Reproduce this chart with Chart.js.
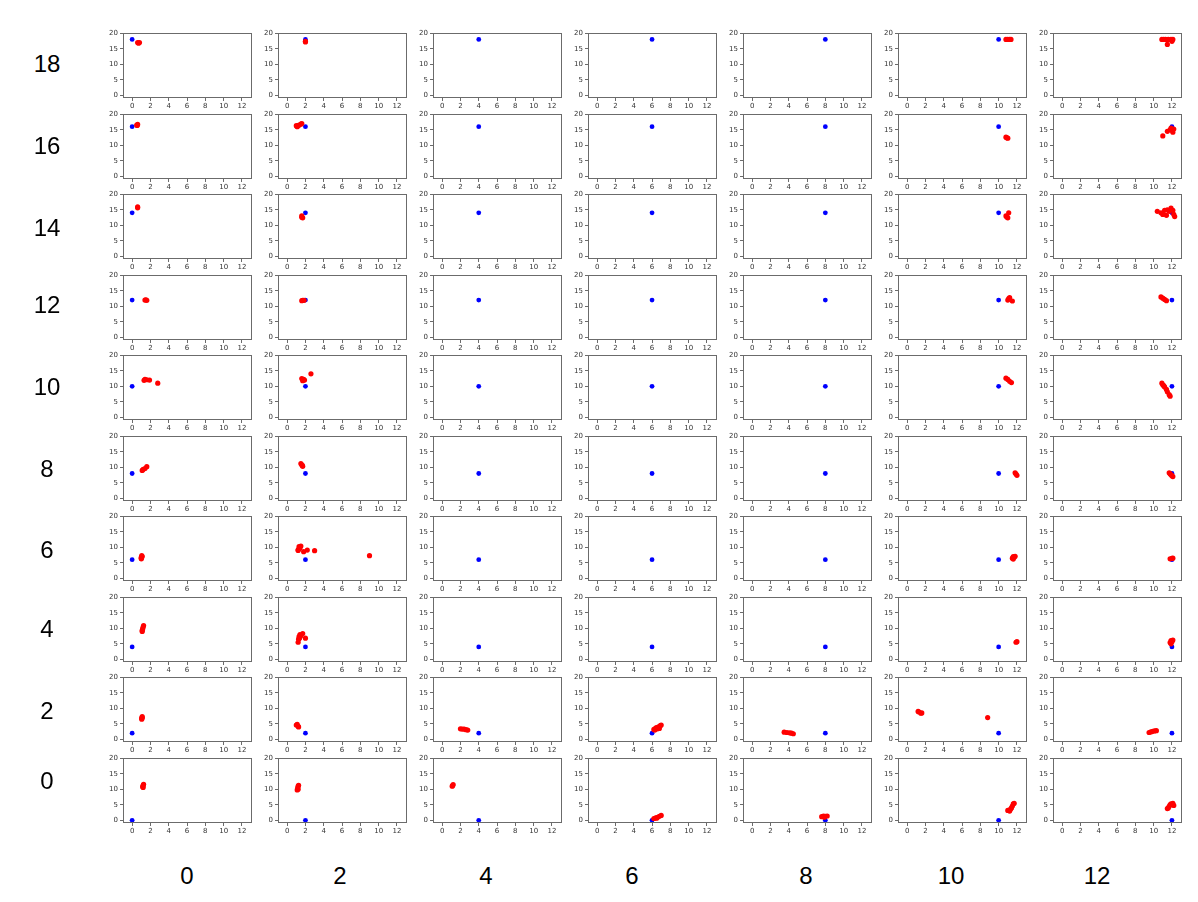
<!DOCTYPE html>
<html>
<head>
<meta charset="utf-8">
<script src="https://cdn.jsdelivr.net/npm/chart.js@4.4.1/dist/chart.umd.min.js"></script>
<style>
  html, body { margin: 0; padding: 0; background: #ffffff; }
  #wrap { position: relative; width: 1198px; height: 902px; overflow: hidden; }
  canvas { position: absolute; }
  .lbl { position: absolute; font-family: "Liberation Sans", Arial, sans-serif; font-size: 24px; color: #000; transform: translate(-50%, -50%); white-space: nowrap; }
</style>
</head>
<body>
<div id="wrap"></div>
<script>
// ---------------- DATA ----------------
const rowValues = [18, 16, 14, 12, 10, 8, 6, 4, 2, 0];   // top to bottom
const colValues = [0, 2, 4, 6, 8, 10, 12];                // left to right
const xTickValues = [0, 2, 4, 6, 8, 10, 12];
const yTickValues = [0, 5, 10, 15, 20];

// red points per row: [columnIndex, x, y]
const red18 = [
  [0, 0.6, 17.0], [0, 0.7, 16.8], [0, 0.8, 17.0],
  [1, 2.0, 17.2], [1, 2.0, 17.4],
  [5, 10.8, 18.0], [5, 11.0, 18.0], [5, 11.2, 18.0], [5, 11.35, 18.0],
  [6, 10.9, 18.0], [6, 11.1, 18.0], [6, 11.3, 18.0], [6, 11.6, 18.0], [6, 11.9, 18.0], [6, 12.1, 18.0], [6, 11.5, 16.4], [6, 12.0, 17.4]
];
const red16 = [
  [0, 0.5, 16.5], [0, 0.6, 16.7], [0, 0.55, 16.4],
  [1, 1.0, 16.3], [1, 1.1, 16.0], [1, 1.3, 16.5], [1, 1.5, 16.8], [1, 1.6, 17.0], [1, 1.2, 16.3],
  [5, 10.8, 12.6], [5, 10.9, 12.4], [5, 11.0, 12.3],
  [6, 11.0, 13.0], [6, 11.5, 14.5], [6, 11.8, 15.0], [6, 12.0, 14.8], [6, 12.2, 15.2], [6, 11.9, 15.5], [6, 12.1, 14.2]
];
const red14 = [
  [0, 0.6, 15.6], [0, 0.6, 15.9],
  [1, 1.6, 13.0], [1, 1.7, 12.4], [1, 1.6, 12.6],
  [5, 10.8, 13.0], [5, 10.9, 12.7], [5, 11.0, 12.4], [5, 11.1, 14.0],
  [6, 10.4, 14.5], [6, 10.8, 14.0], [6, 11.0, 13.5], [6, 11.2, 14.8], [6, 11.5, 15.0], [6, 11.7, 14.5],
  [6, 11.9, 15.5], [6, 12.1, 14.8], [6, 12.2, 13.5], [6, 12.3, 12.8], [6, 11.4, 13.2]
];
const red12 = [
  [0, 1.4, 12.0], [0, 1.5, 12.1], [0, 1.6, 11.9],
  [1, 1.7, 11.9], [1, 1.85, 11.9], [1, 1.6, 11.8],
  [5, 11.0, 12.0], [5, 11.1, 12.5], [5, 11.2, 12.8], [5, 11.5, 11.7],
  [6, 10.8, 13.0], [6, 11.0, 12.6], [6, 11.2, 12.2], [6, 11.4, 11.8]
];
const red10 = [
  [0, 1.3, 11.9], [0, 1.4, 12.2], [0, 1.6, 12.1], [0, 1.9, 12.0], [0, 2.8, 11.0],
  [1, 1.6, 12.5], [1, 1.7, 11.8], [1, 1.8, 12.2], [1, 1.9, 12.0], [1, 2.6, 14.0],
  [5, 10.8, 12.6], [5, 11.0, 12.2], [5, 11.2, 11.6], [5, 11.4, 11.2],
  [6, 10.9, 11.0], [6, 11.0, 10.5], [6, 11.1, 10.2], [6, 11.2, 9.8], [6, 11.4, 9.0], [6, 11.5, 8.2], [6, 11.7, 7.3], [6, 11.8, 6.8]
];
const red8 = [
  [0, 1.1, 9.0], [0, 1.2, 9.3], [0, 1.4, 9.6], [0, 1.6, 10.2],
  [1, 1.5, 11.2], [1, 1.6, 10.8], [1, 1.7, 10.3], [1, 1.65, 10.6],
  [5, 11.8, 8.2], [5, 11.9, 7.8], [5, 12.0, 7.4],
  [6, 11.7, 8.2], [6, 11.8, 7.9], [6, 11.9, 7.6], [6, 12.0, 7.3], [6, 12.1, 7.0]
];
const red6 = [
  [0, 1.0, 6.3], [0, 1.0, 6.8], [0, 1.05, 7.3], [0, 1.1, 7.0], [0, 1.0, 6.5],
  [1, 1.2, 9.0], [1, 1.3, 9.5], [1, 1.3, 10.2], [1, 1.5, 10.4], [1, 1.4, 9.8], [1, 1.2, 9.2],
  [1, 1.8, 8.6], [1, 2.2, 9.1], [1, 3.0, 8.9], [1, 9.0, 7.3],
  [5, 11.5, 6.5], [5, 11.6, 7.0], [5, 11.7, 6.8], [5, 11.6, 6.2], [5, 11.8, 7.1],
  [6, 11.8, 6.3], [6, 12.0, 6.4], [6, 12.1, 6.5]
];
const red4 = [
  [0, 1.1, 9.3], [0, 1.15, 9.8], [0, 1.2, 10.4], [0, 1.25, 10.9], [0, 1.1, 9.0],
  [1, 1.2, 5.5], [1, 1.25, 6.5], [1, 1.3, 7.3], [1, 1.4, 8.0], [1, 1.5, 7.6], [1, 1.7, 8.3], [1, 1.35, 6.8], [1, 2.0, 6.8],
  [5, 11.9, 5.5], [5, 12.0, 5.7],
  [6, 11.8, 5.4], [6, 11.9, 6.0], [6, 12.0, 5.7], [6, 12.1, 6.2], [6, 11.9, 5.0]
];
const red2 = [
  [0, 1.05, 6.5], [0, 1.1, 7.0], [0, 1.1, 7.3], [0, 1.05, 6.8],
  [1, 1.0, 4.6], [1, 1.1, 4.8], [1, 1.2, 4.2], [1, 1.25, 4.0],
  [2, 2.0, 3.4], [2, 2.2, 3.3], [2, 2.4, 3.3], [2, 2.6, 3.1], [2, 2.8, 3.0],
  [3, 6.2, 3.2], [3, 6.4, 3.6], [3, 6.6, 3.4], [3, 6.7, 4.0], [3, 6.9, 4.4], [3, 7.0, 4.6], [3, 6.3, 3.0], [3, 6.5, 3.8], [3, 6.8, 3.5],
  [4, 3.5, 2.3], [4, 3.8, 2.2], [4, 4.1, 2.1], [4, 4.3, 2.0], [4, 4.5, 1.8],
  [5, 1.2, 9.0], [5, 1.3, 8.8], [5, 1.5, 8.4], [5, 1.6, 8.5], [5, 8.8, 7.0],
  [6, 9.5, 2.2], [6, 9.7, 2.4], [6, 9.9, 2.6], [6, 10.1, 2.7], [6, 10.3, 2.8]
];
const red0 = [
  [0, 1.15, 10.8], [0, 1.2, 11.3], [0, 1.25, 11.6], [0, 1.2, 10.6],
  [1, 1.1, 9.8], [1, 1.15, 10.4], [1, 1.2, 11.0], [1, 1.25, 11.3], [1, 1.2, 10.0],
  [2, 1.1, 11.0], [2, 1.2, 11.5], [2, 1.15, 11.2],
  [3, 6.2, 0.6], [3, 6.4, 0.8], [3, 6.6, 1.0], [3, 6.8, 1.3], [3, 7.0, 1.6], [3, 6.5, 0.7],
  [4, 7.6, 1.2], [4, 7.8, 1.4], [4, 8.0, 1.3], [4, 8.2, 1.4], [4, 7.9, 1.0],
  [5, 11.0, 3.2], [5, 11.2, 3.0], [5, 11.3, 3.6], [5, 11.4, 4.0], [5, 11.5, 4.6], [5, 11.6, 5.3], [5, 11.7, 5.5],
  [6, 11.6, 4.0], [6, 11.7, 4.5], [6, 11.8, 5.0], [6, 11.9, 5.3], [6, 12.1, 5.5], [6, 12.2, 4.8], [6, 11.5, 3.8]
];
const redRows = [red18, red16, red14, red12, red10, red8, red6, red4, red2, red0];

// big label positions
const rowLabelY = [64, 146, 228, 305, 387, 469, 550, 629, 711, 781];
const colLabelX = [187, 340, 486, 632, 806, 951, 1097];

// ---------------- LAYOUT ----------------
const plotLeft0 = 123, plotTop0 = 31, colStep = 155, rowStep = 80.5;
const plotW = 129, plotH = 67;
const yAxisW = 22, xAxisH = 14, padTop = 4, padRight = 4;

const wrap = document.getElementById('wrap');

const framePlugin = {
  id: 'frame',
  afterDatasetsDraw(chart) {
    const a = chart.chartArea, ctx = chart.ctx;
    ctx.save();
    ctx.strokeStyle = '#6b6b6b';
    ctx.lineWidth = 1;
    ctx.strokeRect(Math.round(a.left) + 0.5, Math.round(a.top) + 0.5, Math.round(a.right - a.left) - 1, Math.round(a.bottom - a.top) - 1);
    ctx.restore();
  }
};

const tickFont = { family: '"DejaVu Sans", sans-serif', size: 7 };

rowValues.forEach((rv, r) => {
  colValues.forEach((cv, c) => {
    const cnv = document.createElement('canvas');
    const w = yAxisW + plotW + padRight, h = padTop + plotH + xAxisH;
    cnv.width = w; cnv.height = h;
    cnv.style.width = w + 'px'; cnv.style.height = h + 'px';
    cnv.style.left = (plotLeft0 + colStep * c - yAxisW) + 'px';
    cnv.style.top = Math.round(plotTop0 + rowStep * r - padTop) + 'px';
    wrap.appendChild(cnv);
    const reds = redRows[r].filter(p => p[0] === c).map(p => ({ x: p[1], y: p[2] }));
    new Chart(cnv, {
      type: 'scatter',
      data: {
        datasets: [
          { data: [{ x: cv, y: rv }], backgroundColor: '#0000ff', borderWidth: 0, pointRadius: 2.4, order: 2 },
          { data: reds, backgroundColor: '#ff0000', borderWidth: 0, pointRadius: 2.6, order: 1 }
        ]
      },
      options: {
        responsive: false,
        animation: false,
        devicePixelRatio: 1,
        layout: { padding: { top: padTop, right: padRight, left: 0, bottom: 0 } },
        plugins: { legend: { display: false }, tooltip: { enabled: false } },
        events: [],
        scales: {
          x: {
            type: 'linear', min: -1.0, max: 13.1,
            afterBuildTicks: s => { s.ticks = xTickValues.map(v => ({ value: v })); },
            afterFit: s => { s.height = xAxisH; },
            grid: { drawOnChartArea: false, drawTicks: true, tickLength: 3, color: '#6b6b6b' },
            border: { display: false },
            ticks: { font: tickFont, color: '#333', padding: 1, maxRotation: 0, autoSkip: false }
          },
          y: {
            type: 'linear', min: -0.85, max: 20,
            afterBuildTicks: s => { s.ticks = yTickValues.map(v => ({ value: v })); },
            afterFit: s => { s.width = yAxisW; },
            grid: { drawOnChartArea: false, drawTicks: true, tickLength: 3, color: '#6b6b6b' },
            border: { display: false },
            ticks: { font: tickFont, color: '#333', padding: 2, autoSkip: false }
          }
        }
      },
      plugins: [framePlugin]
    });
  });
});

// big row / column labels
rowValues.forEach((rv, r) => {
  const d = document.createElement('div');
  d.className = 'lbl';
  d.textContent = String(rv);
  d.style.left = '47px';
  d.style.top = rowLabelY[r] + 'px';
  wrap.appendChild(d);
});
colValues.forEach((cv, c) => {
  const d = document.createElement('div');
  d.className = 'lbl';
  d.textContent = String(cv);
  d.style.left = colLabelX[c] + 'px';
  d.style.top = '876px';
  wrap.appendChild(d);
});
</script>
</body>
</html>
